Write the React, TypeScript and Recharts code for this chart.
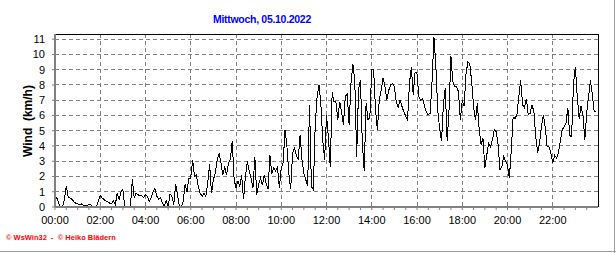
import React from "react"
import { LineChart, Line, XAxis, YAxis, CartesianGrid, ReferenceLine } from "recharts"

const title = "Mittwoch, 05.10.2022"
const yLabel = "Wind  (km/h)"
const credit = "© WsWin32  -  © Heiko Blädern"

// wind speed in km/h, one value every 5 minutes
const wind00to06 = [
  0.4, 0.6, 0.25, 0, 0, 0.5, 1.35, 0.65, 0.6, 0.5, 0.35, 0.25,
  0.2, 0.15, 0.2, 0.1, 0.05, 0.12, 0.15, 0.15, 0, 0, 0, 0.37,
  0.75, 0.6, 0.48, 0.4, 0.35, 0.25, 0.2, 0.4, 0.15, 0.9, 0.5, 1.0,
  1.15, 0, 0, 0, 0, 1.8, 0.6, 0.9, 0.8, 0.75, 0.75, 0.6,
  0.8, 0.7, 0.35, 0.6, 1.0, 1.2, 0.7, 0.5, 0.6, 0.25, 0.05, 0.4,
  0, 0.85, 0.7, 0.15, 1.5, 0.8, 0.05, 0, 0.35, 1.5, 1.0, 1.9
]
const wind06to12 = [
  1.9, 3.1, 2.0, 2.1, 1.35, 0.9, 0.7, 0.9, 0.7, 1.55, 2.8, 0.9,
  1.8, 2.2, 3.1, 3.5, 2.9, 2.1, 2.65, 2.1, 2.9, 3.1, 4.3, 1.8,
  1.25, 1.7, 1.35, 2.1, 0.5, 2.0, 3.0, 2.35, 1.9, 1.25, 3.3, 0.8,
  1.45, 1.9, 1.45, 2.1, 1.55, 1.15, 3.4, 2.2, 2.55, 2.35, 2.65, 1.25,
  2.55, 2.9, 5.05, 4.0, 2.2, 1.15, 3.5, 3.85, 3.4, 3.1, 4.7, 3.1,
  2.2, 1.8, 1.35, 6.7, 1.35, 1.15, 5.3, 7.2, 8.0, 6.8, 4.4, 3.1
]
const wind12to18 = [
  6.0, 4.6, 2.6, 7.5, 6.9, 6.9, 5.7, 6.9, 6.25, 5.4, 7.25, 7.4,
  5.4, 8.1, 9.4, 8.3, 3.3, 7.7, 8.3, 4.2, 2.35, 6.8, 5.7, 5.9,
  9.0, 9.0, 6.35, 5.05, 7.0, 7.65, 8.45, 7.9, 7.0, 7.65, 8.0, 8.1,
  7.9, 6.9, 6.5, 7.0, 6.6, 6.25, 5.95, 5.7, 8.1, 9.2, 7.35, 8.85,
  8.75, 7.25, 7.0, 7.1, 6.6, 6.2, 6.05, 6.15, 8.3, 11.15, 9.2, 6.35,
  5.15, 4.3, 6.7, 7.8, 4.3, 6.4, 9.9, 8.2, 7.9, 7.9, 7.55, 5.7
]
const wind18to24 = [
  7.0, 6.6, 8.75, 9.5, 9.4, 8.2, 6.6, 5.7, 6.8, 5.05, 4.1, 4.5,
  2.55, 3.4, 4.2, 3.95, 4.4, 5.05, 4.95, 4.1, 2.45, 2.65, 3.3, 3.0,
  2.75, 1.9, 3.75, 5.9, 5.8, 6.05, 7.25, 8.3, 6.7, 6.5, 7.1, 6.05,
  6.15, 6.7, 6.25, 4.6, 3.55, 4.2, 5.25, 6.05, 5.25, 3.95, 3.95, 3.55,
  2.9, 3.4, 3.2, 3.55, 4.3, 5.05, 5.25, 5.5, 6.5, 4.7, 4.6, 8.1,
  9.2, 7.25, 5.8, 6.6, 6.05, 4.4, 6.15, 7.25, 8.3, 7.35, 6.25, 6.25
]

const hourLabels = [
  "00:00", "02:00", "04:00", "06:00", "08:00", "10:00",
  "12:00", "14:00", "16:00", "18:00", "20:00", "22:00"
]
const yTicks = [0, 1, 2, 3, 4, 5, 6, 7, 8, 9, 10, 11]

const wind = [...wind00to06, ...wind06to12, ...wind12to18, ...wind18to24]
const data = wind.map((v, i) => ({ t: i * 5, wind: v }))
const gridMinutes = hourLabels.map((_, i) => i * 120)
const minorTicks = Array.from({ length: 48 }, (_, i) => i * 30)

const font = "'Liberation Sans', Arial, sans-serif"

export default function App() {
  return (
    <div style={{ position: "absolute", left: 0, top: 0, width: 616, height: 253, background: "#fff", fontFamily: font }}>
      <div style={{ position: "absolute", left: 162, top: 13, width: 200, textAlign: "center", color: "#0000ff", fontWeight: "bold", fontSize: 10.5, letterSpacing: -0.3 }}>
        {title}
      </div>
      <div style={{ position: "absolute", left: 28, top: 121, width: 0, height: 0 }}>
        <div style={{ position: "absolute", left: -60, top: -8, width: 120, textAlign: "center", transform: "rotate(-90deg)", fontWeight: "bold", fontSize: 12, lineHeight: "16px", whiteSpace: "pre" }}>
          {yLabel}
        </div>
      </div>
      <div style={{ position: "absolute", left: 6, top: 233, color: "#ff0000", fontWeight: "bold", fontSize: 7.5, whiteSpace: "pre" }}>
        {credit}
      </div>
      <div style={{ position: "absolute", left: 0, top: 251, width: 616, height: 1, background: "#a0a0a0" }} />
      <div style={{ position: "absolute", left: 614, top: 0, width: 1, height: 253, background: "#a0a0a0" }} />
      <div style={{ position: "absolute", left: 0, top: 0 }}>
        <LineChart width={616} height={253} data={data} margin={{ top: 34, right: 18, bottom: 16, left: 0 }}>
          <CartesianGrid
            stroke="#808080"
            strokeDasharray="4 3"
            verticalValues={gridMinutes}
            horizontalValues={yTicks.slice(1)}
            shapeRendering="crispEdges"
          />
          <XAxis
            dataKey="t"
            type="number"
            domain={[0, 1440]}
            ticks={minorTicks}
            interval={0}
            height={30}
            tickFormatter={(m: number) => (m % 120 === 0 ? hourLabels[m / 120] : "")}
            tick={{ fill: "#000", fontSize: 11, fontFamily: font }}
            tickSize={3}
            tickMargin={6}
            axisLine={{ stroke: "#808080", strokeWidth: 2 }}
            tickLine={{ stroke: "#808080" }}
          />
          <YAxis
            type="number"
            domain={[0, 11.34]}
            ticks={yTicks}
            interval={0}
            width={55}
            tick={{ fill: "#000", fontSize: 11, fontFamily: font }}
            tickSize={3}
            tickMargin={7}
            axisLine={{ stroke: "#808080", strokeWidth: 2 }}
            tickLine={{ stroke: "#808080" }}
          />
          <ReferenceLine y={11.34} stroke="#000" shapeRendering="crispEdges" />
          <ReferenceLine x={1440} stroke="#000" shapeRendering="crispEdges" />
          <Line
            type="linear"
            dataKey="wind"
            stroke="#000"
            strokeWidth={1}
            dot={false}
            shapeRendering="crispEdges"
            isAnimationActive={false}
          />
        </LineChart>
      </div>
    </div>
  )
}
